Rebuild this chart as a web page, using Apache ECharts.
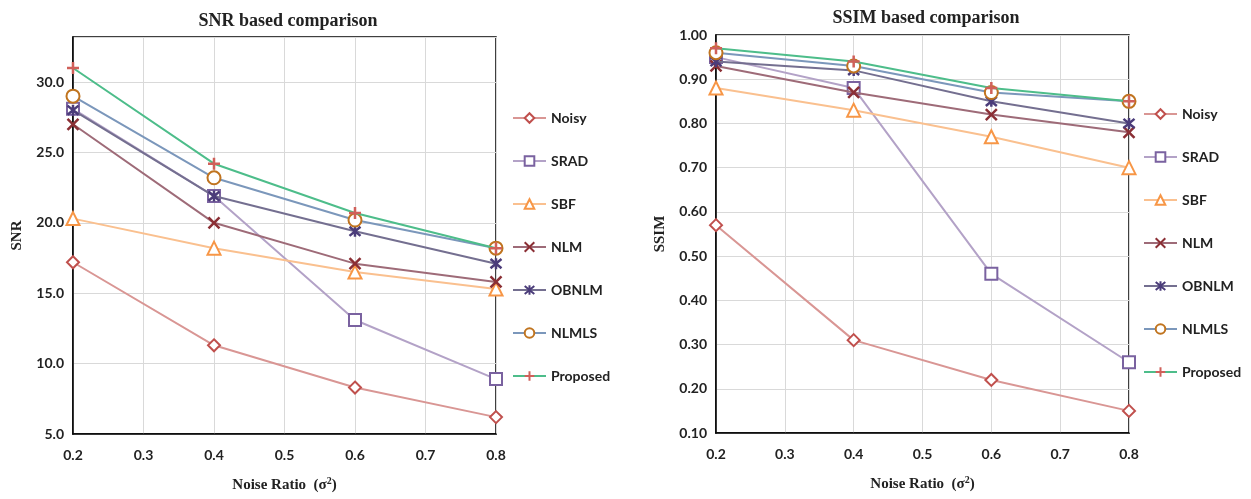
<!DOCTYPE html>
<html>
<head>
    <meta charset="utf-8">
    <title>SNR / SSIM comparison</title>
    <script src="https://cdn.jsdelivr.net/npm/echarts@6/dist/echarts.min.js"></script>
</head>
<body style="margin:0;background:#fff;">
    <div id="main" style="width:1251px;height:499px;"></div>
    <script type="text/javascript">
        // noise ratio on the x axis
        var noiseRatio = [0.2, 0.4, 0.6, 0.8];
        var methods = ['Noisy', 'SRAD', 'SBF', 'NLM', 'OBNLM', 'NLMLS', 'Proposed'];

        // SNR values
        var snrNoisy    = [17.2, 11.3, 8.3, 6.2];
        var snrSRAD     = [28.1, 21.9, 13.1, 8.9];
        var snrSBF      = [20.3, 18.2, 16.5, 15.3];
        var snrNLM      = [27.0, 20.0, 17.1, 15.8];
        var snrOBNLM    = [28.0, 21.9, 19.4, 17.1];
        var snrNLMLS    = [29.0, 23.2, 20.2, 18.2];
        var snrProposed = [31.0, 24.2, 20.7, 18.2];

        // SSIM values
        var ssimNoisy    = [0.57, 0.31, 0.22, 0.15];
        var ssimSRAD     = [0.95, 0.88, 0.46, 0.26];
        var ssimSBF      = [0.88, 0.83, 0.77, 0.70];
        var ssimNLM      = [0.93, 0.87, 0.82, 0.78];
        var ssimOBNLM    = [0.94, 0.92, 0.85, 0.80];
        var ssimNLMLS    = [0.96, 0.93, 0.87, 0.85];
        var ssimProposed = [0.97, 0.94, 0.88, 0.85];

        var snrData = [snrNoisy, snrSRAD, snrSBF, snrNLM, snrOBNLM, snrNLMLS, snrProposed];
        var ssimData = [ssimNoisy, ssimSRAD, ssimSBF, ssimNLM, ssimOBNLM, ssimNLMLS, ssimProposed];

        // look of each method: line colour, marker colour, marker shape, marker size
        var looks = [
            { line: '#d99694', mark: '#c0504d', symbol: 'emptyDiamond', size: 12 },
            { line: '#b3a2c7', mark: '#7a62a0', symbol: 'emptyRect', size: 12 },
            { line: '#fac08f', mark: '#f79646', symbol: 'emptyTriangle', size: 13 },
            { line: '#9e6b78', mark: '#8b2f35', symbol: 'path://M0,0L10,10M10,0L0,10', size: 11 },
            { line: '#746f90', mark: '#4b3c7a', symbol: 'path://M0,0L10,10M10,0L0,10M5,-1L5,11', size: 11 },
            { line: '#7b97bb', mark: '#c0741f', symbol: 'emptyCircle', size: 13 },
            { line: '#4dbd8a', mark: '#d0605a', symbol: 'path://M5,0L5,10M0,5L10,5', size: 12 }
        ];

        var tickFont = { fontFamily: 'Lato', fontWeight: 'bold', fontSize: 14, color: '#222' };
        var serifBold = { fontFamily: 'Liberation Serif', fontWeight: 'bold', color: '#222' };

        function makeSeries(data, idx) {
            return data.map(function (vals, i) {
                var lk = looks[i];
                var isPath = lk.symbol.indexOf('path://') === 0;
                return {
                    name: methods[i],
                    type: 'line',
                    xAxisIndex: idx,
                    yAxisIndex: idx,
                    data: noiseRatio.map(function (x, j) { return [x, vals[j]]; }),
                    symbol: lk.symbol,
                    symbolSize: lk.size,
                    showAllSymbol: true,
                    lineStyle: { color: lk.line, width: 2 },
                    itemStyle: {
                        color: isPath ? 'rgba(0,0,0,0)' : lk.mark,
                        borderColor: lk.mark,
                        borderWidth: isPath ? 2.5 : 2
                    },
                    emphasis: { disabled: true },
                    z: 2 + i
                };
            });
        }

        var xAxisBase = {
            type: 'value',
            min: 0.2,
            max: 0.8,
            interval: 0.1,
            nameLocation: 'middle',
            nameGap: 42,
            nameTextStyle: {
                fontFamily: 'Liberation Serif', fontWeight: 'bold', fontSize: 15, color: '#222',
                rich: { sup: { fontFamily: 'Liberation Serif', fontWeight: 'bold', fontSize: 10, verticalAlign: 'top', padding: [0, 0, 8, 0], color: '#222' } }
            },
            name: 'Noise Ratio  (σ{sup|2})',
            axisLine: { lineStyle: { color: '#000', width: 1.5 } },
            axisTick: { show: false },
            axisLabel: Object.assign({ margin: 14, formatter: function (v) { return v.toFixed(1); } }, tickFont),
            splitLine: { lineStyle: { color: '#d9d9d9' } }
        };

        var myChart = echarts.init(document.getElementById('main'));

        var option = {
            animation: false,
            title: [
                { text: 'SNR based comparison', left: 283, top: 7, textAlign: 'center', textStyle: Object.assign({ fontSize: 18 }, serifBold) },
                { text: 'SSIM based comparison', left: 921, top: 4, textAlign: 'center', textStyle: Object.assign({ fontSize: 18 }, serifBold) }
            ],
            legend: [
                {
                    data: methods, orient: 'vertical', left: 507, top: 106,
                    itemWidth: 33, itemHeight: 12, itemGap: 29,
                    textStyle: Object.assign({}, tickFont, { fontSize: 14 })
                },
                {
                    data: methods, orient: 'vertical', left: 1138, top: 102,
                    itemWidth: 33, itemHeight: 12, itemGap: 29,
                    textStyle: Object.assign({}, tickFont, { fontSize: 14 })
                }
            ],
            grid: [
                { left: 73, right: 755, top: 37, bottom: 65, show: true, borderColor: '#000', borderWidth: 1.5 },
                { left: 716, right: 122, top: 35, bottom: 66, show: true, borderColor: '#000', borderWidth: 1.5 }
            ],
            xAxis: [
                Object.assign({ gridIndex: 0 }, xAxisBase),
                Object.assign({ gridIndex: 1 }, xAxisBase)
            ],
            yAxis: [
                {
                    type: 'value', gridIndex: 0, min: 5, max: 33.2, interval: 5,
                    name: 'SNR', nameLocation: 'middle', nameGap: 48,
                    nameTextStyle: Object.assign({ fontSize: 15 }, serifBold),
                    axisLine: { show: true, lineStyle: { color: '#000', width: 1.5 } },
                    axisTick: { show: false },
                    axisLabel: Object.assign({ margin: 9, showMaxLabel: false, formatter: function (v) { return v.toFixed(1); } }, tickFont),
                    splitLine: { lineStyle: { color: '#d9d9d9' } }
                },
                {
                    type: 'value', gridIndex: 1, min: 0.1, max: 1.0, interval: 0.1,
                    name: 'SSIM', nameLocation: 'middle', nameGap: 48,
                    nameTextStyle: Object.assign({ fontSize: 15 }, serifBold),
                    axisLine: { show: true, lineStyle: { color: '#000', width: 1.5 } },
                    axisTick: { show: false },
                    axisLabel: Object.assign({ margin: 9, formatter: function (v) { return v.toFixed(2); } }, tickFont),
                    splitLine: { lineStyle: { color: '#d9d9d9' } }
                }
            ],
            series: makeSeries(snrData, 0).concat(makeSeries(ssimData, 1))
        };

        myChart.setOption(option);
    </script>
</body>
</html>
